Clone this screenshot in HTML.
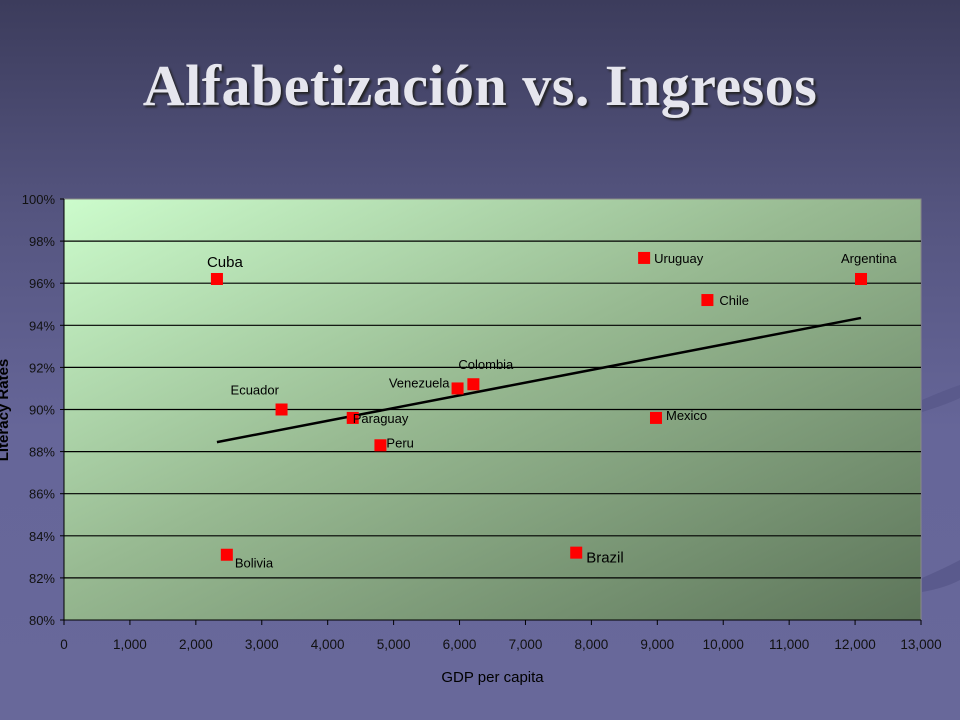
<!DOCTYPE html>
<html><head><meta charset="utf-8"><style>
html,body{margin:0;padding:0}
body{width:960px;height:720px;overflow:hidden;background:linear-gradient(180deg,#3c3c5c 0%,#555580 30%,#666699 60%,#68689a 100%);position:relative;font-family:"Liberation Sans",sans-serif}
#title{position:absolute;left:0;top:52px;width:960px;text-align:center;font-family:"Liberation Serif",serif;font-weight:bold;font-size:58px;letter-spacing:0.5px;color:#e6e6ee;text-shadow:2px 2px 2px #222}
svg{position:absolute;left:0;top:0}
</style></head><body>
<div id="title">Alfabetización vs. Ingresos</div>
<svg id="chart" width="960" height="720">
<defs>
<linearGradient id="pg" x1="0" y1="0" x2="1" y2="1">
<stop offset="0" stop-color="#ccfccc"/><stop offset="0.45" stop-color="#98ba92"/><stop offset="1" stop-color="#5d755a"/>
</linearGradient>
</defs>
<path d="M922 400 Q945 390 960 385 L960 398 Q945 405 922 412Z" fill="#58588a" opacity="0.8"/>
<path d="M922 578 Q945 568 960 560 L960 580 Q945 588 922 592Z" fill="#58588a" opacity="0.8"/>
<g id="g"></g>
</svg>
<script>
const countries=["Cuba","Uruguay","Argentina","Chile","Colombia","Venezuela","Ecuador","Paraguay","Mexico","Peru","Bolivia","Brazil"];
const gdp=[2320,8800,12090,9760,6210,5970,3300,4380,8980,4800,2470,7770];
const literacy=[96.2,97.2,96.2,95.2,91.2,91.0,90.0,89.6,89.6,88.3,83.1,83.2];
const trendX=[2320,12090];
const trendY=[88.45,94.35];
const xTicks=[0,1000,2000,3000,4000,5000,6000,7000,8000,9000,10000,11000,12000,13000];
const yTicks=[80,82,84,86,88,90,92,94,96,98,100];
const L=64,R=921,T=199,B=620;
const X=v=>L+(v-0)/13000*(R-L);
const Y=v=>B-(v-80)/20*(B-T);
const g=document.getElementById('g');
const NS='http://www.w3.org/2000/svg';
function mk(t,a){const e=document.createElementNS(NS,t);for(const k in a)e.setAttribute(k,a[k]);g.appendChild(e);return e;}
let e=mk('rect',{x:L,y:T,width:R-L,height:B-T,fill:'url(#pg)',stroke:'#888'});


yTicks.forEach(v=>{
 if(v>80&&v<100){let l=mk('line',{x1:L,x2:R,y1:Y(v),y2:Y(v),stroke:'#000','stroke-width':1.2});
 
 }
 let tk=mk('line',{x1:L-4,x2:L,y1:Y(v),y2:Y(v),stroke:'#000'});
 
 
 let t=mk('text',{x:L-9,y:Y(v)+5,'text-anchor':'end','font-size':13,fill:'#111'});t.textContent=v+'%';
 
 
});
let ax=mk('line',{x1:L,x2:L,y1:T,y2:B,stroke:'#000'});


let axx=mk('line',{x1:L,x2:R,y1:B,y2:B,stroke:'#000'});


xTicks.forEach(v=>{
 let tk=mk('line',{x1:X(v),x2:X(v),y1:B,y2:B+5,stroke:'#000'});
 
 
 let t=mk('text',{x:X(v),y:B+29,'text-anchor':'middle','font-size':13.5,fill:'#111'});t.textContent=v.toLocaleString('en-US');
 
 
});
let xt=mk('text',{x:(L+R)/2,y:682,'text-anchor':'middle','font-size':15,fill:'#000'});xt.textContent='GDP per capita';


let yt=mk('text',{x:0,y:0,'text-anchor':'middle','font-size':15,'font-weight':'bold',fill:'#000',transform:'translate(8,410) rotate(-90)'});yt.textContent='Literacy Rates';


let tl=mk('line',{x1:X(trendX[0]),y1:Y(trendY[0]),x2:X(trendX[1]),y2:Y(trendY[1]),stroke:'#000','stroke-width':2.5});


const lab={Cuba:[-10,-12,'start',15],Uruguay:[10,5,'start',13],Argentina:[-20,-16,'start',13],Chile:[12,5,'start',13],Colombia:[-15,-15,'start',13],Venezuela:[-8,-1,'end',13],Ecuador:[-51,-15,'start',13],Paraguay:[0,5,'start',13],Mexico:[10,2,'start',13],Peru:[6,2,'start',13],Bolivia:[8,13,'start',13],Brazil:[10,10,'start',15]};
countries.forEach((c,i)=>{
 const x=X(gdp[i]),y=Y(literacy[i]);
 let m=mk('rect',{x:x-6,y:y-6,width:12,height:12,fill:'#ff0000'});
 
 
 const o=lab[c];
 let t=mk('text',{x:x+o[0],y:y+o[1],'text-anchor':o[2],'font-size':o[3],fill:'#000'});t.textContent=c;
 
 
});
</script>
</body></html>
